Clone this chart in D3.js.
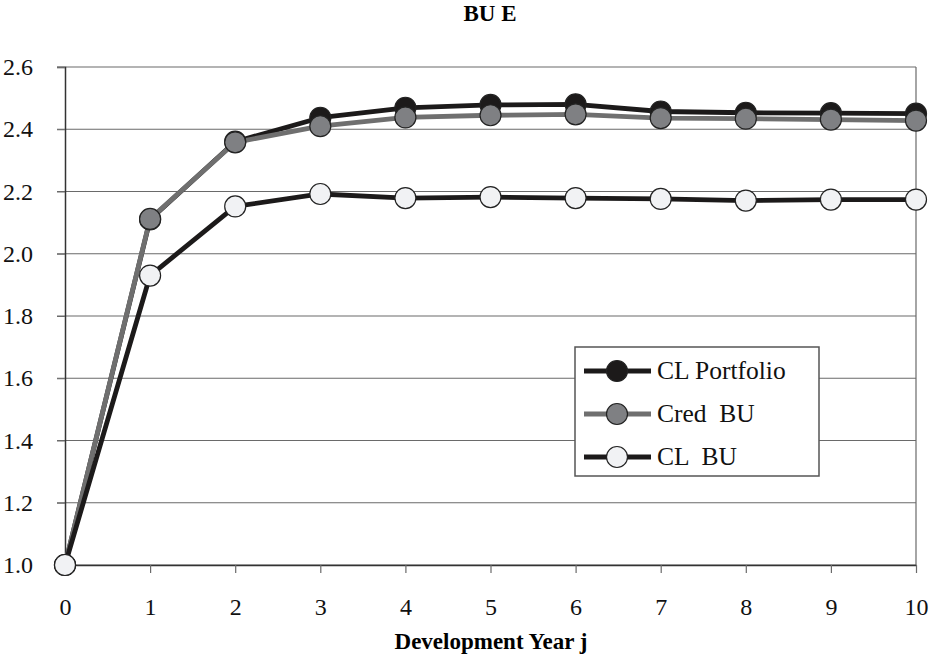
<!DOCTYPE html>
<html>
<head>
<meta charset="utf-8">
<script src="https://cdn.jsdelivr.net/npm/d3@7"></script>
<style>
body { margin: 0; background: #fff; }
text { font-family: "Liberation Serif", "Times New Roman", serif; white-space: pre; }
</style>
</head>
<body>
<svg width="934" height="658"></svg>
<script>
const years = [0, 1, 2, 3, 4, 5, 6, 7, 8, 9, 10];
const clPortfolio = [1.0, 2.11, 2.36, 2.437, 2.469, 2.478, 2.48, 2.457, 2.453, 2.452, 2.45];
const credBU = [1.0, 2.112, 2.358, 2.41, 2.438, 2.445, 2.448, 2.436, 2.434, 2.431, 2.428];
const clBU = [1.0, 1.93, 2.152, 2.192, 2.179, 2.182, 2.179, 2.176, 2.171, 2.174, 2.174];
const yTicks = [1.0, 1.2, 1.4, 1.6, 1.8, 2.0, 2.2, 2.4, 2.6];

const series = [
  { name: "CL Portfolio", values: clPortfolio, line: "#1c1a1a", fill: "#1c1a1a" },
  { name: "Cred  BU", values: credBU, line: "#6f6f6f", fill: "#7f8083" },
  { name: "CL  BU", values: clBU, line: "#1c1a1a", fill: "#f1f2f4" }
];

const svg = d3.select("svg");
const plotLeft = 65, plotRight = 916, plotTop = 67, plotBottom = 565;

const x = d3.scaleLinear().domain([0, 10]).range([plotLeft, plotRight]);
const y = d3.scaleLinear().domain([1.0, 2.6]).range([plotBottom, plotTop]);

// title
svg.append("text")
  .attr("x", 490).attr("y", 21)
  .attr("text-anchor", "middle")
  .style("font-size", "23px").style("font-weight", "bold")
  .text("BU E");

// gridlines
svg.append("g")
  .selectAll("line")
  .data(yTicks)
  .enter().append("line")
  .attr("x1", plotLeft - 8).attr("x2", plotRight)
  .attr("y1", d => y(d)).attr("y2", d => y(d))
  .attr("stroke", "#6a6a6a").attr("stroke-width", 1.2);

// right border
svg.append("line")
  .attr("x1", plotRight).attr("x2", plotRight)
  .attr("y1", plotTop).attr("y2", plotBottom)
  .attr("stroke", "#6a6a6a").attr("stroke-width", 1.2);

// y axis
const yAxis = svg.append("g")
  .attr("transform", "translate(" + plotLeft + ",0)")
  .call(d3.axisLeft(y).tickValues(yTicks).tickFormat(d3.format(".1f")).tickSize(8).tickPadding(24));
yAxis.select(".domain").attr("stroke", "#333").attr("stroke-width", 1.5);
yAxis.selectAll(".tick line").attr("stroke", "#6a6a6a");
yAxis.selectAll("text").style("font-size", "24px").attr("fill", "#111");

// x axis
const xAxis = svg.append("g")
  .attr("transform", "translate(0," + plotBottom + ")")
  .call(d3.axisBottom(x).tickValues(years).tickSize(8).tickPadding(25).tickSizeOuter(0));
xAxis.select(".domain").attr("stroke", "#333").attr("stroke-width", 1.5);
xAxis.selectAll(".tick line").attr("stroke", "#6a6a6a").attr("stroke-width", 1.2);
xAxis.selectAll("text").style("font-size", "24px").attr("fill", "#111");

svg.append("text")
  .attr("x", 491).attr("y", 649)
  .attr("text-anchor", "middle")
  .style("font-size", "23px").style("font-weight", "bold")
  .text("Development Year j");

// lines and markers
const line = d3.line().x((d, i) => x(years[i])).y(d => y(d));

series.forEach(s => {
  svg.append("path")
    .datum(s.values)
    .attr("d", line)
    .attr("fill", "none")
    .attr("stroke", s.line)
    .attr("stroke-width", 4.8)
    .attr("stroke-linejoin", "round");
});

series.forEach(s => {
  svg.append("g")
    .selectAll("circle")
    .data(s.values)
    .enter().append("circle")
    .attr("cx", (d, i) => x(years[i]))
    .attr("cy", d => y(d))
    .attr("r", 10.5)
    .attr("fill", s.fill)
    .attr("stroke", "#222")
    .attr("stroke-width", 1.2);
});

// legend
const legend = svg.append("g");
legend.append("rect")
  .attr("x", 575).attr("y", 347)
  .attr("width", 244).attr("height", 129)
  .attr("fill", "#fff")
  .attr("stroke", "#555").attr("stroke-width", 1.5);

const rows = legend.selectAll(".row")
  .data(series)
  .enter().append("g")
  .attr("transform", (d, i) => "translate(0," + (371 + i * 43) + ")");

rows.append("line")
  .attr("x1", 584).attr("x2", 651)
  .attr("stroke", d => d.line).attr("stroke-width", 4.8);
rows.append("circle")
  .attr("cx", 617).attr("r", 10.5)
  .attr("fill", d => d.fill)
  .attr("stroke", "#222").attr("stroke-width", 1.2);
rows.append("text")
  .attr("x", 657).attr("y", 8)
  .style("font-size", "25.5px").attr("fill", "#111")
  .text(d => d.name);
</script>
</body>
</html>
